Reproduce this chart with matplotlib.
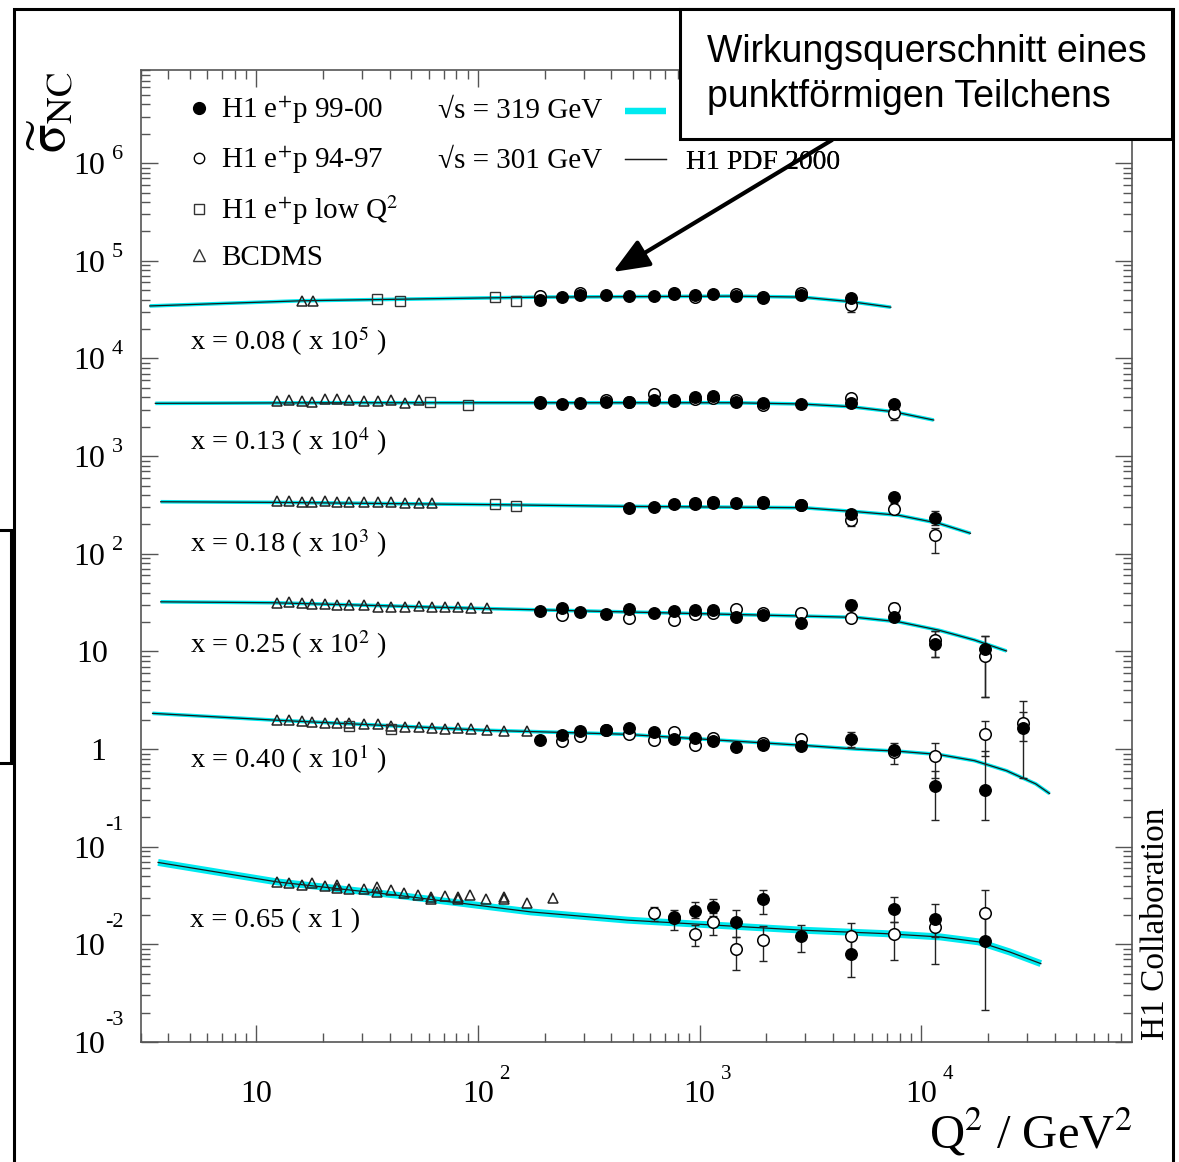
import matplotlib

matplotlib.use('Agg')
import matplotlib.pyplot as plt
import numpy as np
from matplotlib.lines import Line2D
from matplotlib.patches import Rectangle
from matplotlib.transforms import offset_copy

plt.rcParams['font.family'] = ['Liberation Serif', 'DejaVu Serif']
plt.rcParams['mathtext.fontset'] = 'stix'

# ---- data (values as plotted, i.e. already multiplied by the bin scale factor) ----
bins = ['0.08', '0.13', '0.18', '0.25', '0.40', '0.65']
scales = ['10$^{5}$', '10$^{4}$', '10$^{3}$', '10$^{2}$', '10$^{1}$', '1']
label_y = [1.22e4, 1156, 104.7, 9.6, 0.637, 0.0151]

# H1 PDF 2000 fit curves
curve_q2_008 = [3.3, 16, 50, 190, 1400, 2900, 4000, 4800, 7300]
curve_008 = [3.45e4, 3.9e4, 4.06e4, 4.25e4, 4.35e4, 4.25e4, 3.97e4, 3.82e4, 3.35e4]
curve_q2_013 = [3.5, 20, 186, 1426, 2858, 4790, 7500, 11400]
curve_013 = [3.47e3, 3.52e3, 3.52e3, 3.52e3, 3.42e3, 3.21e3, 2.85e3, 2.34e3]
curve_q2_018 = [3.7, 12, 123, 454, 2950, 5100, 7900, 12000, 16700]
curve_018 = [341, 336, 318, 306, 296, 270, 248, 205, 162]
curve_q2_025 = [3.7, 12, 106, 454, 2950, 5100, 7900, 12000, 17400, 24300]
curve_025 = [32.2, 31.5, 27.5, 25.4, 23.0, 22.3, 20.1, 16.5, 13.1, 10.1]
curve_q2_040 = [3.4, 12, 106, 454, 2950, 5100, 7900, 12000, 17400, 24300, 32900, 38000]
curve_040 = [2.32, 1.98, 1.56, 1.42, 1.09, 1.0, 0.95, 0.88, 0.76, 0.60, 0.44, 0.35]
curve_q2_065 = [3.6, 12.4, 43.4, 173, 473, 3040, 6770, 12250, 18200, 25100, 34700]
curve_065 = [0.0690, 0.0436, 0.0318, 0.0215, 0.0177, 0.0139, 0.0129, 0.0119, 0.0106, 0.00836, 0.00635]

# BCDMS
bcdms_q2_008 = [16.1, 18.0]
bcdms_008 = [3.88e4, 3.88e4]
bcdms_q2_013 = [12.4, 14.1, 16.0, 17.9, 20.3, 23.1, 26.3, 30.5, 35.3, 40.6, 47.1, 54.1]
bcdms_013 = [3.70e3, 3.76e3, 3.70e3, 3.60e3, 3.82e3, 3.82e3, 3.76e3, 3.70e3, 3.70e3, 3.76e3, 3.52e3, 3.76e3]
bcdms_q2_018 = [12.4, 14.1, 16.0, 17.9, 20.3, 23.1, 26.3, 30.5, 35.3, 40.6, 47.1, 54.1, 62.1]
bcdms_018 = [350, 348, 342, 340, 345, 336, 340, 335, 335, 338, 330, 333, 328]
bcdms_q2_025 = [12.4, 14.1, 16.0, 17.9, 20.3, 23.1, 26.3, 30.5, 35.3, 40.6, 47.1, 54.1, 62.1,
                70.7, 81.3, 93.2, 110]
bcdms_025 = [31.5, 32.2, 31.5, 30.5, 30.5, 29.8, 29.8, 29.8, 28.6, 28.6, 28.6, 29.1, 28.2,
             28.2, 28.2, 28.0, 27.6]
bcdms_q2_040 = [12.4, 14.1, 16.0, 17.9, 20.3, 23.1, 26.3, 30.5, 35.3, 40.6, 47.1, 54.1, 62.1,
                70.7, 81.3, 93.2, 110, 131, 166]
bcdms_040 = [1.98, 1.98, 1.95, 1.90, 1.86, 1.86, 1.83, 1.80, 1.80, 1.72, 1.69, 1.69, 1.63,
             1.59, 1.63, 1.59, 1.56, 1.54, 1.54]
bcdms_q2_065 = [12.4, 14.1, 16.0, 17.9, 20.3, 23.1, 26.3, 30.5, 35.1, 40.6, 46.6, 53.4, 61.3,
                70.7, 80.9, 92.5, 109, 131, 166, 218, 23.1, 35.1, 61.3, 80.9, 131]
bcdms_065 = [0.0436, 0.0420, 0.0403, 0.0420, 0.0394, 0.0403, 0.0373, 0.0373, 0.0388, 0.0358,
             0.0336, 0.0318, 0.0306, 0.0311, 0.0306, 0.0318, 0.0290, 0.0306, 0.0268, 0.0299,
             0.0380, 0.0344, 0.0289, 0.0290, 0.0290]

# H1 e+p low Q2
low_q2_008 = [35.1, 44.7, 120, 149]
low_008 = [4.06e4, 3.91e4, 4.3e4, 3.91e4]
low_q2_013 = [60.5, 90]
low_013 = [3.56e3, 3.34e3]
low_q2_018 = [120, 149]
low_018 = [323, 308]
low_q2_040 = [26.3, 40.4]
low_040 = [1.72, 1.59]

# H1 e+p 99-00 (filled) and 94-97 (open), common Q2 bins
nan = np.nan
q2_h1 = [191, 240, 290, 377, 478, 620, 763, 949, 1156, 1455, 1925, 2884, 4806, 7516, 11610,
         19370, 28720]
new_008 = [3.97e4, 4.24e4, 4.48e4, 4.48e4, 4.40e4, 4.36e4, 4.58e4, 4.48e4, 4.58e4, 4.36e4,
           4.14e4, 4.48e4, 4.2e4, nan, nan, nan, nan]
old_008 = [4.36e4, nan, 4.66e4, nan, nan, nan, 4.72e4, 4.3e4, nan, 4.54e4, 4.3e4, 4.66e4,
           3.53e4, nan, nan, nan, nan]
new_013 = [3.47e3, 3.39e3, 3.47e3, 3.61e3, 3.56e3, 3.76e3, 3.67e3, 4.07e3, 4.16e3, 3.61e3,
           3.52e3, 3.42e3, 3.47e3, 3.42e3, nan, nan, nan]
old_013 = [3.61e3, nan, nan, 3.76e3, 3.61e3, 4.33e3, 3.76e3, 3.85e3, 3.91e3, 3.76e3, 3.34e3,
           nan, 3.91e3, 2.79e3, nan, nan, nan]
new_018 = [nan, nan, nan, nan, 292, 303, 323, 323, 328, 333, 328, 315, 258, 378, 231, nan, nan]
old_018 = [nan, nan, nan, nan, nan, nan, nan, 330, 335, nan, 335, 318, 221, 285, 155, nan, nan]
new_025 = [26.1, 27.6, 25.5, 24.1, 26.9, 24.8, 25.9, 26.5, 26.5, 22.3, 23.5, 19.4, 29.8, 22.3,
           11.9, 10.7, nan]
old_025 = [nan, 23.5, nan, nan, 21.8, nan, 20.9, 24.1, 24.8, 26.9, 24.5, 24.5, 21.8, 27.6,
           13.1, 8.96, nan]
new_040 = [1.25, 1.39, 1.54, 1.56, 1.66, 1.50, 1.28, 1.31, 1.21, 1.04, 1.10, 1.07, 1.28, 0.975,
           0.417, 0.379, 1.63]
old_040 = [nan, 1.21, 1.36, 1.56, 1.44, 1.25, 1.50, 1.10, 1.31, nan, 1.16, 1.28, nan, 0.94,
           0.845, 1.42, 1.83]
new_065 = [nan, nan, nan, nan, nan, nan, 0.0191, 0.0220, 0.0242, 0.0169, 0.0292, 0.0121,
           0.00793, 0.0231, 0.0181, 0.0108, nan]
old_065 = [nan, nan, nan, nan, nan, 0.0210, 0.0184, 0.0129, 0.0169, 0.00906, 0.0110, nan,
           0.0121, 0.0129, 0.0151, 0.0210, nan]

# visible error bars: bin index -> (low, high)
err_new_018 = {13: (330, 419), 14: (197, 276)}
err_old_008 = {12: (3.0e4, 4.17e4)}
err_old_013 = {13: (2.34e3, 3.1e3)}
err_old_018 = {12: (192, 249), 14: (102, 184)}
err_new_025 = {12: (26.5, 33.6), 14: (8.67, 16.3), 15: (3.43, 14.4)}
err_old_025 = {13: (23.5, 31.3), 14: (8.67, 16.3), 15: (3.43, 14.4)}
err_new_040 = {12: (1.05, 1.50), 13: (0.706, 1.16), 14: (0.187, 0.6), 15: (0.187, 0.95),
               16: (0.51, 2.4)}
err_old_040 = {14: (0.5, 1.15), 15: (0.85, 1.95), 16: (1.2, 3.12)}
err_new_065 = {6: (0.0139, 0.0227), 7: (0.0184, 0.0272), 8: (0.0194, 0.0288),
               9: (0.0119, 0.0224), 10: (0.0204, 0.0364), 11: (0.00836, 0.0157),
               12: (0.00464, 0.0121), 13: (0.0169, 0.0306), 14: (0.0119, 0.0262),
               15: (0.00215, 0.021)}
err_old_065 = {5: (0.0174, 0.0242), 7: (0.00957, 0.0157), 8: (0.0124, 0.0207),
               9: (0.00552, 0.0119), 10: (0.00676, 0.0153), 12: (0.0080, 0.0166),
               13: (0.00698, 0.0169), 14: (0.00635, 0.02), 15: (0.0108, 0.0364)}

curves = [(curve_q2_008, curve_008), (curve_q2_013, curve_013), (curve_q2_018, curve_018),
          (curve_q2_025, curve_025), (curve_q2_040, curve_040), (curve_q2_065, curve_065)]
bcdms = [(bcdms_q2_008, bcdms_008), (bcdms_q2_013, bcdms_013), (bcdms_q2_018, bcdms_018),
         (bcdms_q2_025, bcdms_025), (bcdms_q2_040, bcdms_040), (bcdms_q2_065, bcdms_065)]
lowq2 = [(low_q2_008, low_008), (low_q2_013, low_013), (low_q2_018, low_018),
         ([], []), (low_q2_040, low_040), ([], [])]
new_h1 = [new_008, new_013, new_018, new_025, new_040, new_065]
old_h1 = [old_008, old_013, old_018, old_025, old_040, old_065]
err_new = [{}, {}, err_new_018, err_new_025, err_new_040, err_new_065]
err_old = [err_old_008, err_old_013, err_old_018, err_old_025, err_old_040, err_old_065]

W, H = 1179, 1162


def fx(px):
    return px / W


def fy(py):
    return 1 - py / H


fig = plt.figure(figsize=(W / 100, H / 100), dpi=100)
ax = fig.add_axes([fx(140.5), fy(1042), (1131.5 - 140.5) / W, (1042 - 70) / H])
ax.set_xscale('log')
ax.set_yscale('log')
ax.set_xlim(3.0, 8.9e4)
ax.set_ylim(1e-3, 9e6)

band_cyan = '#00eaf0'
for i, (q, s) in enumerate(curves):
    ax.plot(q, s, color=band_cyan, lw=5.0 if i == 5 else 2.6, solid_capstyle='butt', zorder=2)
    ax.plot(q, s, color='#1a1a1a', lw=0.9, zorder=3)

for i in range(len(bins)):
    qb, sb = bcdms[i]
    ax.plot(qb, sb, ls='none', marker='^', ms=6.5, mfc='none', mec='#222222', mew=1.1, zorder=4)
    ql, sl = lowq2[i]
    ax.plot(ql, sl, ls='none', marker='s', ms=6.5, mfc='none', mec='#333333', mew=1.0, zorder=4)

    for vals, errs, filled in [(old_h1[i], err_old[i], False), (new_h1[i], err_new[i], True)]:
        for k, (lo, hi) in errs.items():
            y = vals[k]
            ax.errorbar([q2_h1[k]], [y], yerr=[[y - lo], [hi - y]], fmt='none',
                        ecolor='#222222', elinewidth=1.0, capsize=3, capthick=1.0, zorder=4.5)
        if filled:
            ax.plot(q2_h1, vals, ls='none', marker='o', ms=8.3, color='black', zorder=6)
        else:
            ax.plot(q2_h1, vals, ls='none', marker='o', ms=8.3, mfc='white', mec='black',
                    mew=1.1, zorder=5)

    ax.text(5.04, label_y[i], f'x = {bins[i]} ( x {scales[i]} )', fontsize=20.5,
            ha='left', va='baseline', zorder=7)

# axes style (ROOT look)
ax.xaxis.set_major_locator(matplotlib.ticker.LogLocator(base=10, numticks=20))
ax.yaxis.set_major_locator(matplotlib.ticker.LogLocator(base=10, numticks=20))
ax.xaxis.set_minor_locator(matplotlib.ticker.LogLocator(base=10, subs=np.arange(2, 10), numticks=200))
ax.yaxis.set_minor_locator(matplotlib.ticker.LogLocator(base=10, subs=np.arange(2, 10), numticks=200))
ax.tick_params(which='both', direction='in', top=True, right=True, labelbottom=False,
               labelleft=False, color='#555555')
ax.tick_params(which='major', length=12, width=1.0)
ax.tick_params(which='minor', length=6.5, width=1.0)
for sp in ax.spines.values():
    sp.set_color('#555555')
    sp.set_linewidth(1.2)

# tick labels drawn as "10" + raised exponent
ytr = ax.get_yaxis_transform()
for e in range(-3, 7):
    v = 10.0 ** e
    base_tr = offset_copy(ytr, fig=fig, x=0, y=-11, units='dots')
    if e == 0:
        ax.text(-0.035, v, '1', transform=base_tr, ha='right', va='baseline', fontsize=23)
    elif e == 1:
        ax.text(-0.0325, v, '10', transform=base_tr, ha='right', va='baseline', fontsize=23)
    else:
        ax.text(-0.036, v, '10', transform=base_tr, ha='right', va='baseline', fontsize=23)
        if e > 0:
            exp_tr = offset_copy(ytr, fig=fig, x=0, y=4, units='dots')
            ax.text(-0.029, v, str(e), transform=exp_tr, ha='left', va='baseline', fontsize=16)
        else:
            exp_tr = offset_copy(ytr, fig=fig, x=0, y=17, units='dots')
            ax.text(-0.036, v, str(e), transform=exp_tr, ha='left', va='baseline', fontsize=16)

xtr = ax.get_xaxis_transform()
for e in range(1, 5):
    v = 10.0 ** e
    ax.text(v, -0.0614, '10', transform=xtr, ha='center', va='baseline', fontsize=23)
    if e > 1:
        exp_tr = offset_copy(xtr, fig=fig, x=21, y=23, units='dots')
        ax.text(v, -0.0614, str(e), transform=exp_tr, ha='left', va='baseline', fontsize=15)

# legends
h_new = Line2D([], [], ls='none', marker='o', ms=8.5, color='black')
h_old = Line2D([], [], ls='none', marker='o', ms=7.5, mfc='white', mec='black', mew=1.0)
h_low = Line2D([], [], ls='none', marker='s', ms=7.5, mfc='white', mec='#333333', mew=1.0)
h_bcd = Line2D([], [], ls='none', marker='^', ms=8.0, mfc='white', mec='#333333', mew=1.0)
leg1 = ax.legend([h_new, h_old, h_low, h_bcd],
                 ['H1 e$^{+}$p 99-00', 'H1 e$^{+}$p 94-97', 'H1 e$^{+}$p low Q$^{2}$', 'BCDMS'],
                 loc='upper left', bbox_to_anchor=(fx(185), fy(95)), bbox_transform=fig.transFigure,
                 frameon=False, fontsize=21, handlelength=0.95, handletextpad=0.3,
                 labelspacing=0.58, borderpad=0, borderaxespad=0, numpoints=1)
ax.add_artist(leg1)
h_band = Line2D([], [], color=band_cyan, lw=4.5, solid_capstyle='butt')
h_fit = Line2D([], [], color='#1a1a1a', lw=0.9)
leg2 = ax.legend([h_band, h_fit], [' ', 'H1 PDF 2000'], loc='upper left',
                 bbox_to_anchor=(fx(625), fy(101)), bbox_transform=fig.transFigure,
                 frameon=False, fontsize=20, handlelength=1.475, handletextpad=0.72,
                 labelspacing=0.82, borderpad=0, borderaxespad=0)
ax.add_artist(leg2)

fig.text(fx(438), fy(118), '√s = 319 GeV', fontsize=21, va='baseline')
fig.text(fx(438), fy(168), '√s = 301 GeV', fontsize=21, va='baseline')

# axis titles
fig.text(fx(52), fy(112), r'$\widetilde{\mathrm{\sigma}}_{\mathrm{NC}}$', rotation=90,
         ha='center', va='center', fontsize=38)
fig.text(fx(1133), fy(1148), r'Q$^{2}$ / GeV$^{2}$', ha='right', va='baseline', fontsize=35)
fig.text(fx(1156), fy(1040), 'H1 Collaboration', rotation=90, ha='center', va='bottom',
         fontsize=24)

# slide decorations: outer frame, callout box and arrow
fig.add_artist(Rectangle((fx(13.5), -0.05), fx(1173) - fx(13.5), fy(8.5) + 0.05,
                         transform=fig.transFigure, fill=False, lw=2.2, ec='black', zorder=5))
fig.add_artist(Rectangle((-0.05, fy(763)), fx(11) + 0.05, fy(530) - fy(763),
                         transform=fig.transFigure, fill=False, lw=2.2, ec='black', zorder=5))
fig.add_artist(Rectangle((fx(680), fy(139)), fx(1172) - fx(680), fy(9) - fy(139),
                         transform=fig.transFigure, fc='white', lw=2.2, ec='black', zorder=6))
fig.text(fx(707), fy(61.7), 'Wirkungsquerschnitt eines', family='Liberation Sans',
         fontsize=27, va='baseline', zorder=7)
fig.text(fx(707), fy(107.3), 'punktförmigen Teilchens', family='Liberation Sans',
         fontsize=27, va='baseline', zorder=7)
ax.annotate('', xy=(613, H - 272), xycoords='figure pixels', xytext=(832, H - 140),
            textcoords='figure pixels',
            arrowprops=dict(arrowstyle='-|>,head_length=1.1,head_width=0.45', lw=3,
                            color='black', mutation_scale=20, shrinkA=0, shrinkB=0))

plt.savefig('out.png', dpi=100)
plt.close()
